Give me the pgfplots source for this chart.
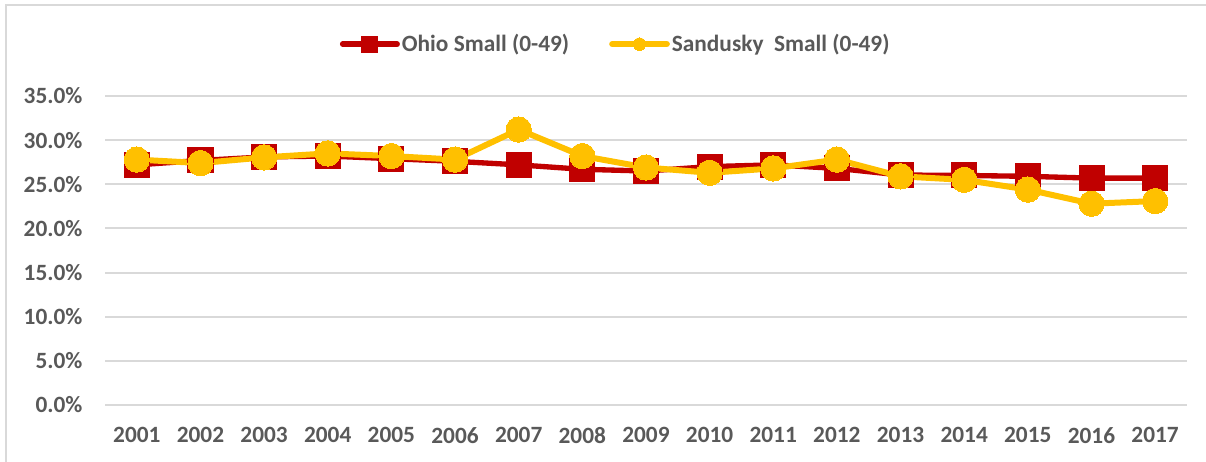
\documentclass[border=0pt]{standalone}
\usepackage{fontspec}
\setmainfont{Carlito}
\usepackage{pgfplots}
\pgfplotsset{compat=1.18}
\definecolor{ohred}{HTML}{C00000}
\definecolor{sanyel}{HTML}{FFC000}
\definecolor{labelgray}{HTML}{595959}
\definecolor{gridgray}{HTML}{D9D9D9}
\begin{document}
\begin{tikzpicture}
\useasboundingbox (0pt,0pt) rectangle (904.5pt,345.75pt);
\draw[gridgray, line width=1.5pt] (4.5pt,-10pt) -- (4.5pt,342pt) -- (920pt,342pt);
\begin{axis}[
  at={(78.75pt,42pt)}, anchor=south west,
  scale only axis, width=811.5pt, height=231.75pt,
  xmin=2000.5, xmax=2017.5, ymin=0, ymax=35,
  xtick={2001,2002,...,2017}, ytick={0,5,...,35},
  ymajorgrids, grid style={draw=gridgray, line width=1.5pt},
  axis line style={draw=none}, major tick length=0pt,
  clip=false,
  /pgf/number format/assume math mode=true,
  /pgf/number format/1000 sep={},
  tick label style={font=\fontsize{17.5}{21}\selectfont\bfseries, text=labelgray},
  xticklabel style={anchor=north, inner sep=0pt, yshift=-16.5pt},
  yticklabel style={anchor=east, inner sep=0pt, xshift=-16.7pt},
  yticklabel={\pgfmathprintnumber[fixed,fixed zerofill,precision=1]{\tick}\%},
  legend columns=2,
  legend style={at={(0.472,1.168)}, anchor=center, draw=none, fill=none,
    font=\fontsize{17.5}{21}\selectfont\bfseries, text=labelgray,
    nodes={inner xsep=1.5pt},
    /tikz/every even column/.append style={column sep=28.5pt}},
]
\addplot[color=ohred, line width=4pt, mark=square*, mark size=9.4pt,
  mark options={draw=ohred, fill=ohred, line width=0pt},
  legend image code/.code={\draw[mark repeat=2,mark phase=2,mark size=6pt, line cap=round]
    plot coordinates {(0pt,0pt)(20.5pt,0pt)(41pt,0pt)};}]
coordinates {
(2001,27.2)(2002,27.7)(2003,28.1)(2004,28.2)(2005,27.9)(2006,27.6)(2007,27.2)(2008,26.7)(2009,26.5)(2010,27.0)(2011,27.2)(2012,26.8)(2013,26.05)(2014,26.0)(2015,25.9)(2016,25.7)(2017,25.7)
};
\addlegendentry{Ohio Small (0-49)}
\addplot[color=sanyel, line width=4.5pt, mark=*, mark size=9.5pt,
  mark options={draw=sanyel, fill=sanyel, line width=0pt},
  legend image code/.code={\draw[mark repeat=2,mark phase=2,mark size=4.7pt, line cap=round]
    plot coordinates {(0pt,0pt)(20.5pt,0pt)(41pt,0pt)};}]
coordinates {
(2001,27.8)(2002,27.4)(2003,28.05)(2004,28.5)(2005,28.2)(2006,27.8)(2007,31.2)(2008,28.2)(2009,26.9)(2010,26.3)(2011,26.8)(2012,27.8)(2013,25.9)(2014,25.5)(2015,24.4)(2016,22.8)(2017,23.1)
};
\addlegendentry{Sandusky\ \ Small (0-49)}
\end{axis}
\end{tikzpicture}
\end{document}
